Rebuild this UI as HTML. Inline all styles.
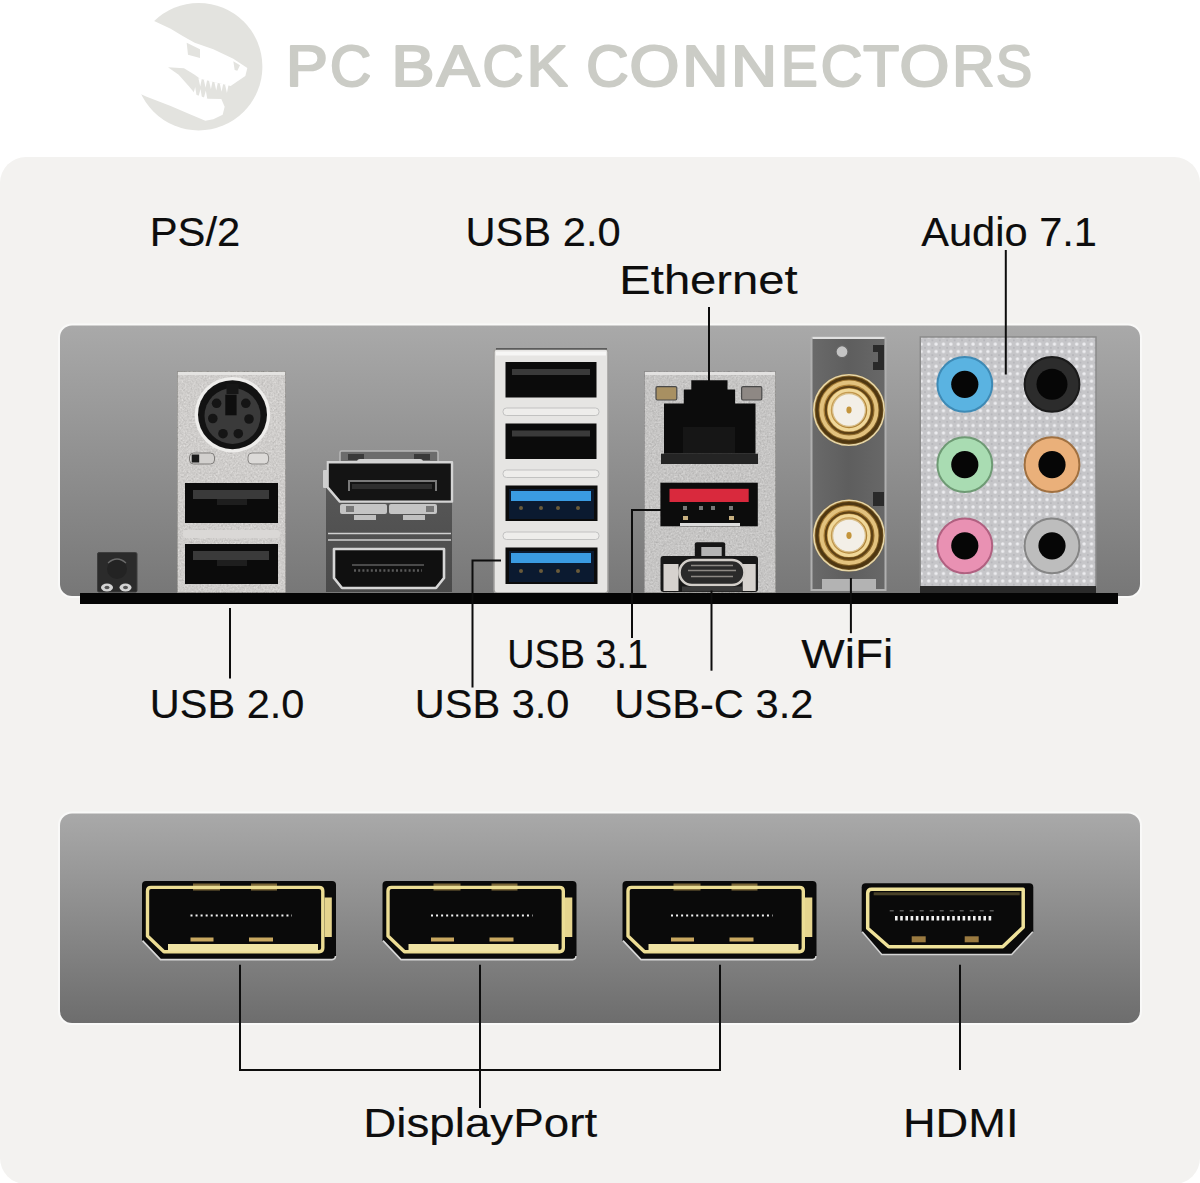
<!DOCTYPE html>
<html><head><meta charset="utf-8"><title>PC Back Connectors</title>
<style>
html,body{margin:0;padding:0;background:#fff;width:1200px;height:1183px;overflow:hidden}
svg{display:block}
text{font-family:"Liberation Sans",sans-serif}
</style></head>
<body>
<svg width="1200" height="1183" viewBox="0 0 1200 1183">
<defs>
 <linearGradient id="band1" x1="0" y1="0" x2="0" y2="1">
  <stop offset="0" stop-color="#a9a9a9"/><stop offset="1" stop-color="#777"/>
 </linearGradient>
 <linearGradient id="band2" x1="0" y1="0" x2="0" y2="1">
  <stop offset="0" stop-color="#a9a9a9"/><stop offset="1" stop-color="#6d6d6d"/>
 </linearGradient>
</defs>
<defs>
 <filter id="grain" x="0" y="0" width="100%" height="100%" color-interpolation-filters="sRGB">
  <feTurbulence type="fractalNoise" baseFrequency="0.55" numOctaves="2" seed="7" result="n"/>
  <feColorMatrix in="n" type="matrix" values="0.33 0.33 0.33 0 0  0.33 0.33 0.33 0 0  0.33 0.33 0.33 0 0  0 0 0 0 1" result="g"/>
  <feComposite in="SourceGraphic" in2="g" operator="arithmetic" k1="0" k2="1" k3="0.34" k4="-0.17" result="c"/>
  <feComposite in="c" in2="SourceGraphic" operator="in"/>
 </filter>
 <pattern id="knurl" width="7.4" height="7.4" patternUnits="userSpaceOnUse">
  <rect width="7.4" height="7.4" fill="#c6c6c9"/>
  <circle cx="3.7" cy="3.7" r="1.7" fill="#ededf0"/>
  <circle cx="0" cy="0" r="1" fill="#b4b4b8"/><circle cx="7.4" cy="0" r="1" fill="#b4b4b8"/><circle cx="0" cy="7.4" r="1" fill="#b4b4b8"/><circle cx="7.4" cy="7.4" r="1" fill="#b4b4b8"/>
 </pattern>
</defs>
<rect width="1200" height="1183" fill="#fff"/>
<!-- light panel -->
<rect x="0" y="157" width="1200" height="1027" rx="26" fill="#f3f2f0"/>
<!-- logo -->
<g transform="translate(120,0) scale(0.13333)">
 <circle cx="590" cy="500" r="478" fill="#e3e3df"/>
 <path fill="#fff" d="M240,150 L380,215 L470,270 L560,320 L700,370 L850,440 L955,510 L940,570 L860,625 L830,645 L600,590 L560,560 L480,512 L360,505 L440,560 L520,650 L570,710 L660,740 L760,742 L785,800 L770,860 L700,895 L640,905 L520,855 L380,795 L200,725 L120,690 L0,690 L0,0 L240,0 Z"/>
 <path fill="#e3e3df" d="M500,320 L600,370 L600,435 L510,410 Z M850,460 L900,490 L880,530 L860,525 Z"/>
 <path fill="#fff" d="M588,587 L602,649 L614,589 Z M628,597 L642,659 L654,599 Z M668,607 L682,669 L694,609 Z M708,616 L722,678 L734,618 Z M748,626 L762,688 L774,628 Z M788,635 L802,697 L814,637 Z M548,712 L564,652 L574,714 Z M588,728 L604,668 L614,730 Z M628,738 L644,678 L654,740 Z"/>
</g>
<!-- title -->
<g fill="#cbccc6" stroke="#cbccc6" stroke-width="2.2" stroke-linejoin="round" font-size="56.98">
 <text transform="translate(286.07,85.70) scale(1.101,1)">P</text>
 <text transform="translate(329.91,85.70) scale(1.000,1)">C</text>
 <text transform="translate(391.46,85.70) scale(1.131,1)">B</text>
 <text transform="translate(436.71,85.70) scale(1.126,1)">A</text>
 <text transform="translate(482.62,85.70) scale(0.995,1)">C</text>
 <text transform="translate(526.76,85.70) scale(1.075,1)">K</text>
 <text transform="translate(586.25,85.70) scale(1.029,1)">C</text>
 <text transform="translate(629.45,85.70) scale(1.125,1)">O</text>
 <text transform="translate(682.24,85.70) scale(1.121,1)">N</text>
 <text transform="translate(731.00,85.70) scale(1.120,1)">N</text>
 <text transform="translate(780.96,85.70) scale(0.963,1)">E</text>
 <text transform="translate(820.68,85.70) scale(1.012,1)">C</text>
 <text transform="translate(863.32,85.70) scale(1.029,1)">T</text>
 <text transform="translate(899.40,85.70) scale(1.124,1)">O</text>
 <text transform="translate(952.23,85.70) scale(1.027,1)">R</text>
 <text transform="translate(996.09,85.70) scale(0.949,1)">S</text>
</g>
<!-- band 1 -->
<rect x="58" y="323.5" width="1084" height="274.5" rx="14" fill="#f9f9f8"/>
<rect x="60" y="325.5" width="1080" height="270.5" rx="12" fill="url(#band1)"/>
<!-- small button -->
<rect x="97.5" y="552.5" width="39.5" height="39.5" rx="1.5" fill="#2b2b2b" stroke="#3e3e3e" stroke-width="1"/>
<circle cx="117" cy="569" r="10" fill="#232323"/>
<path d="M108,563 Q117,555 126,563" fill="none" stroke="#6a6a6a" stroke-width="1.2"/>
<ellipse cx="107" cy="587.5" rx="6" ry="4" fill="#d4d4d4"/><ellipse cx="125.5" cy="587.5" rx="6" ry="4" fill="#d4d4d4"/>
<ellipse cx="107" cy="587.5" rx="2.5" ry="1.8" fill="#555"/><ellipse cx="125.5" cy="587.5" rx="2.5" ry="1.8" fill="#555"/>

<!-- PS/2 + USB2.0 housing -->
<rect x="177" y="371" width="109" height="222" fill="#cfcdcb" stroke="#8f8d8b" stroke-width="1.5" filter="url(#grain)"/>
<rect x="178" y="372" width="107" height="3" fill="#e4e3e1"/>
<circle cx="232.5" cy="414.7" r="37.8" fill="#eeedeb"/>
<circle cx="232.5" cy="414.7" r="34.5" fill="#121212"/>
<circle cx="232.5" cy="416" r="28" fill="#3a3a3a"/>
<rect x="226.5" y="384" width="12" height="10" fill="#161616"/>
<rect x="225.3" y="394.7" width="11.3" height="20.6" fill="#0e0e0e"/>
<g fill="#151515">
 <circle cx="216.6" cy="403.3" r="4.8"/><circle cx="245.8" cy="403.3" r="4.8"/>
 <circle cx="212.8" cy="418.5" r="4.8"/><circle cx="249" cy="419" r="4.8"/>
 <circle cx="223" cy="433.7" r="4.8"/><circle cx="238.3" cy="433.7" r="4.8"/>
</g>
<rect x="189.5" y="453" width="25" height="11" rx="4" fill="#d2d0ce" stroke="#7e7c7a"/>
<rect x="191.7" y="454.5" width="7.5" height="8" fill="#1a1a1a"/>
<rect x="248" y="453" width="20.6" height="11" rx="4" fill="#dcdad8" stroke="#8a8886"/>
<rect x="185" y="483" width="93" height="40" fill="#0b0b0b"/>
<rect x="193" y="490" width="76" height="9" fill="#3a3a3a"/><rect x="217" y="499" width="30" height="6" fill="#1e1e1e"/>
<rect x="185" y="544" width="93" height="40" fill="#0b0b0b"/>
<rect x="193" y="551" width="76" height="9" fill="#3a3a3a"/><rect x="217" y="560" width="30" height="6" fill="#1e1e1e"/>
<rect x="183" y="530" width="97" height="8" rx="3" fill="#dad8d6"/>

<!-- DP + HDMI stacked -->
<defs>
 <linearGradient id="stk" x1="0" y1="0" x2="0" y2="1">
  <stop offset="0" stop-color="#5a5a5a"/><stop offset="1" stop-color="#4a4a4a"/>
 </linearGradient>
</defs>
<rect x="326" y="462" width="126" height="130" fill="url(#stk)"/>
<rect x="340" y="451" width="98" height="14" rx="1.5" fill="#6c6c6c" stroke="#b8b8b8" stroke-width="1.5"/>
<rect x="348" y="454" width="16" height="6" fill="#3a3a3a"/><rect x="414" y="454" width="16" height="6" fill="#3a3a3a"/>
<rect x="357" y="459" width="66" height="6" rx="3" fill="#d2d2d2"/>
<path d="M327.6,462.3 H452 V501.6 H339.8 L327.6,487.4 Z" fill="#141414" stroke="#d4d4d4" stroke-width="2.4" stroke-linejoin="round"/>
<rect x="323" y="470" width="5" height="18" rx="1" fill="#cfcfcf"/>
<path d="M349,491 V481 H436 V491" fill="none" stroke="#7a7a7a" stroke-width="2"/>
<rect x="352" y="484" width="80" height="5" fill="#2e2e2e"/>
<rect x="340" y="504" width="47" height="10" rx="2" fill="#c4c4c4"/>
<rect x="389" y="504" width="48" height="10" rx="2" fill="#c4c4c4"/>
<rect x="346" y="506" width="8" height="6" fill="#777"/><rect x="426" y="506" width="8" height="6" fill="#777"/>
<rect x="354" y="515" width="22" height="5" fill="#c0c0c0"/><rect x="403" y="515" width="22" height="5" fill="#c0c0c0"/>
<path d="M328,533.5 H451 M328,540 H451" stroke="#d0d0d0" stroke-width="1.6"/>
<path d="M334,549 H444 V578 L436,588 H342 L334,578 Z" fill="#101010" stroke="#d6d6d6" stroke-width="2.6" stroke-linejoin="round"/>
<path d="M352,565 H424" stroke="#4a4a4a" stroke-width="2"/>
<path d="M354,570.5 H422" stroke="#5a5a5a" stroke-width="2.4" stroke-dasharray="2 2.2"/>

<!-- USB 2.0 / 3.0 stack -->
<rect x="494" y="349" width="114" height="244" rx="3" fill="#e6e5e3" stroke="#a09f9d" stroke-width="1.5"/>
<path d="M496,348.8 H607" stroke="#444" stroke-width="1.2"/>
<rect x="496" y="351.5" width="110" height="4" fill="#f6f6f5"/>
<g fill="#0b0b0b">
 <rect x="505.5" y="362" width="91" height="35.5"/>
 <rect x="505.5" y="423.5" width="91" height="35.5"/>
 <rect x="505.5" y="485.5" width="92" height="35.5"/>
 <rect x="505.5" y="547.5" width="92" height="36.5"/>
</g>
<rect x="512" y="369" width="78" height="6" fill="#3a3a3a"/>
<rect x="512" y="430.5" width="78" height="6" fill="#3a3a3a"/>
<rect x="509" y="489" width="85" height="30" fill="#0b1a30"/>
<rect x="511" y="491" width="80" height="10" fill="#3a9be2"/>
<rect x="509" y="551" width="85" height="31" fill="#0b1a30"/>
<rect x="511" y="553" width="80" height="10" fill="#3a9be2"/>
<g fill="#eeedeb" stroke="#b8b8b8" stroke-width="0.8">
 <rect x="503" y="408" width="96" height="7.5" rx="3.5"/>
 <rect x="503" y="470" width="96" height="7.5" rx="3.5"/>
 <rect x="503" y="532" width="96" height="7.5" rx="3.5"/>
</g>
<g fill="#6a5a3a">
 <circle cx="521" cy="508" r="2"/><circle cx="541" cy="508" r="2"/><circle cx="558" cy="508" r="2"/><circle cx="578" cy="508" r="2"/>
 <circle cx="521" cy="571" r="2"/><circle cx="541" cy="571" r="2"/><circle cx="558" cy="571" r="2"/><circle cx="578" cy="571" r="2"/>
</g>

<!-- Ethernet / USB3.1 / USB-C -->
<rect x="644" y="371" width="132" height="222" fill="#c6c5c4" stroke="#8c8b8a" stroke-width="1.5" filter="url(#grain)"/>
<rect x="645" y="372" width="130" height="3" fill="#e2e1e0"/>
<path d="M664,403.5 H683.8 V389.5 H691.3 V380.2 H727.5 V389.5 H735.1 V403.5 H755.5 V453.7 H664 Z" fill="#0c0c0c"/>
<rect x="661" y="453.7" width="97" height="10.3" fill="#242424"/>
<rect x="683" y="427" width="52" height="26" fill="#161616"/>

<rect x="656" y="386.6" width="20.8" height="13.4" rx="1.5" fill="#a89062" stroke="#4a4a4a" stroke-width="1.2"/>
<rect x="741.6" y="386.6" width="20.2" height="13.4" rx="1.5" fill="#8e8884" stroke="#4a4a4a" stroke-width="1.2"/>
<rect x="660.4" y="482.7" width="97.4" height="43.6" fill="#0c0c0c"/>
<rect x="669.5" y="488.8" width="79.2" height="13.2" fill="#d9293d"/>
<g fill="#777"><rect x="683" y="506" width="4" height="4"/><rect x="699" y="506" width="4" height="4"/><rect x="711" y="506" width="4" height="4"/><rect x="729" y="506" width="4" height="4"/></g>
<g fill="#c8b080"><rect x="683" y="516" width="5" height="4"/><rect x="729" y="516" width="5" height="4"/></g>
<rect x="680" y="523" width="60" height="3" fill="#ddd"/>
<rect x="694.8" y="542.3" width="30.4" height="17" rx="2" fill="#161616"/>
<rect x="701.3" y="547" width="20.4" height="10.5" fill="#b4b4b4"/>
<rect x="660.5" y="556" width="97.5" height="36" rx="3" fill="#181818"/>
<rect x="663.5" y="564" width="15" height="27" fill="#d6d2ce"/>
<rect x="742.7" y="564" width="13" height="27" fill="#d6d2ce"/>
<rect x="679.5" y="560" width="65" height="25" rx="12.5" fill="#2a2a2a" stroke="#d2cec9" stroke-width="2.6"/>
<path d="M691,565.5 H733 M688,570.5 H736 M691,576.5 H733" stroke="#8c8884" stroke-width="1.6"/>
<rect x="682" y="586.5" width="60" height="5" fill="#3a3a3a"/>

<!-- WiFi -->
<path d="M811.5,339 Q811.5,337 813.5,337 H883.5 Q885.5,337 885.5,339 V590 H811.5 Z" fill="url(#wfb)" stroke="#b0b0b0" stroke-width="2"/>
<path d="M873,345 H884 V370 H873 V362 H878 V352 H873 Z" fill="#2a2a2a"/>
<path d="M873,492 H884 V506 H873 Z" fill="#2a2a2a"/>
<rect x="822" y="579" width="54" height="11" fill="#b3b3b3"/>
<path d="M812.5,338 H884.5" stroke="#e0e0e0" stroke-width="2"/>
<circle cx="842" cy="351.7" r="6" fill="#c4c4c4" stroke="#666" stroke-width="1.2"/>
<defs>
 <linearGradient id="wfb" x1="0" y1="0" x2="1" y2="0"><stop offset="0" stop-color="#6a6a6a"/><stop offset="0.5" stop-color="#5e5e5e"/><stop offset="1" stop-color="#686868"/></linearGradient>
 <radialGradient id="gold" cx="0.45" cy="0.45" r="0.6">
  <stop offset="0" stop-color="#e8c888"/><stop offset="0.45" stop-color="#b88a3c"/><stop offset="0.8" stop-color="#7a5a22"/><stop offset="1" stop-color="#4e3a18"/>
 </radialGradient>
</defs>
<g>
<g transform="translate(849,410)">
 <circle r="36" fill="url(#gold)"/>
 <circle r="35.2" fill="none" stroke="#e6d6a8" stroke-width="1.6"/>
 <circle r="32" fill="none" stroke="#4e3712" stroke-width="3"/>
 <circle r="27.5" fill="none" stroke="#e2c27e" stroke-width="4"/>
 <circle r="23.2" fill="none" stroke="#5e4216" stroke-width="2.2"/>
 <circle r="19.8" fill="none" stroke="#f0d89a" stroke-width="3.2"/>
 <circle r="16.4" fill="#f3efe7" stroke="#d8bf8a" stroke-width="1.2"/>
 <ellipse rx="2.6" ry="3.4" fill="#c4953c"/>
</g>
<g transform="translate(849,535.5)">
 <circle r="36" fill="url(#gold)"/>
 <circle r="35.2" fill="none" stroke="#e6d6a8" stroke-width="1.6"/>
 <circle r="32" fill="none" stroke="#4e3712" stroke-width="3"/>
 <circle r="27.5" fill="none" stroke="#e2c27e" stroke-width="4"/>
 <circle r="23.2" fill="none" stroke="#5e4216" stroke-width="2.2"/>
 <circle r="19.8" fill="none" stroke="#f0d89a" stroke-width="3.2"/>
 <circle r="16.4" fill="#f3efe7" stroke="#d8bf8a" stroke-width="1.2"/>
 <ellipse rx="2.6" ry="3.4" fill="#c4953c"/>
</g>
</g>

<!-- Audio -->
<rect x="920.3" y="337" width="175.7" height="250" fill="url(#knurl)" stroke="#8a8a8a" stroke-width="1.5"/>
<rect x="920" y="586" width="176" height="7" fill="#2a2a2a"/>
<g>
 <circle cx="964.8" cy="384.3" r="27.4" fill="#5ab3e1" stroke="#3e8ab5" stroke-width="2"/>
 <circle cx="1052" cy="384.3" r="27.4" fill="#2c2c2c" stroke="#1a1a1a" stroke-width="2"/>
 <circle cx="964.8" cy="464.7" r="27.4" fill="#a9dcb2" stroke="#6e9a74" stroke-width="2"/>
 <circle cx="1052" cy="464.7" r="27.4" fill="#eab07a" stroke="#a07040" stroke-width="2"/>
 <circle cx="964.8" cy="545.8" r="27.4" fill="#e991b3" stroke="#b06080" stroke-width="2"/>
 <circle cx="1052" cy="545.8" r="27.4" fill="#bdbdbd" stroke="#858585" stroke-width="2"/>
</g>
<g fill="#060606">
 <circle cx="964.8" cy="384.3" r="13.6"/><circle cx="1052" cy="384.3" r="15.5"/>
 <circle cx="964.8" cy="464.7" r="13.6"/><circle cx="1052" cy="464.7" r="13.6"/>
 <circle cx="964.8" cy="545.8" r="13.6"/><circle cx="1052" cy="545.8" r="13.6"/>
</g>

<rect x="80" y="593" width="1038" height="11" fill="#050505"/>
<!-- band 2 -->
<rect x="58" y="811.5" width="1084" height="213.5" rx="14" fill="#f9f9f8"/>
<rect x="60" y="813.5" width="1080" height="209.5" rx="12" fill="url(#band2)"/>

<!-- DP / HDMI bottom -->
<defs>
 <g id="dp">
  <path d="M4,0 H190 Q194,0 194,4 V75 Q194,79 190,79 H18.5 L0,59.6 V4 Q0,0 4,0 Z" fill="#0a0a0a"/>
  <path d="M0.5,59.6 L18.5,78.6 H190 Q193.5,78.6 193.5,75" fill="none" stroke="#d8d8d8" stroke-width="1.6"/>
  <rect x="51" y="2.5" width="27" height="7" fill="#7a6638"/>
  <rect x="109" y="2.5" width="26" height="7" fill="#7a6638"/>
  <path d="M9,6.4 H177 Q180.8,6.4 180.8,10 V67 Q180.8,70.7 177,70.7 H22 L5.5,55 V10 Q5.5,6.4 9,6.4 Z" fill="none" stroke="#ecdd94" stroke-width="3.4" stroke-linejoin="round"/>
  <rect x="26" y="63" width="150" height="7.5" fill="#efe3a4"/>
  <rect x="182.5" y="16.5" width="7.3" height="39.5" fill="#e6d58e"/>
  <rect x="48.5" y="56.5" width="23" height="4" fill="#c8a860"/>
  <rect x="107" y="56.5" width="24" height="4" fill="#c8a860"/>
  <path d="M48.5,34.5 H150" stroke="#f4f4f4" stroke-width="2" stroke-dasharray="2 3.05"/>
 </g>
</defs>
<use href="#dp" x="142" y="881"/>
<use href="#dp" x="382.5" y="881"/>
<use href="#dp" x="622.5" y="881"/>
<g transform="translate(861.7,883.3)">
 <path d="M4,0 H167.6 Q171.6,0 171.6,4 V48.4 L150,71.7 H20 L0,48.4 V4 Q0,0 4,0 Z" fill="#0a0a0a"/>
 <path d="M0.5,48.4 L20,71.2 H150 L171.1,48.4" fill="none" stroke="#d4d4d4" stroke-width="1.6"/>
 <path d="M10,6 H161.5 V44 L141,63.5 H27 L6,45 V10 Q6,6 10,6 Z" fill="none" stroke="#efe29a" stroke-width="3.5" stroke-linejoin="round"/>
 <rect x="50" y="53" width="14" height="6" fill="#9a7a40"/>
 <rect x="103" y="53" width="14" height="6" fill="#9a7a40"/>
 <path d="M33.3,35 H131" stroke="#f2f2f2" stroke-width="4.6" stroke-dasharray="2.6 2.6"/>
 <path d="M28,27.5 H132" stroke="#555" stroke-width="1.5" stroke-dasharray="4 6"/>
 <rect x="12" y="9" width="146" height="3" fill="#4a4228"/>
</g>

<!-- labels -->
<g fill="#0d0d0d" stroke="#0d0d0d" stroke-width="0.15" font-size="41.2">
 <text x="149.74" y="246.4" textLength="90.58" lengthAdjust="spacingAndGlyphs">PS/2</text>
 <text x="465.45" y="246.4" textLength="155.20" lengthAdjust="spacingAndGlyphs">USB 2.0</text>
 <text x="619.31" y="294.4" textLength="178.38" lengthAdjust="spacingAndGlyphs">Ethernet</text>
 <text x="921.20" y="246.4" textLength="175.83" lengthAdjust="spacingAndGlyphs">Audio 7.1</text>
 <text x="507.32" y="667.6" textLength="140.74" lengthAdjust="spacingAndGlyphs">USB 3.1</text>
 <text x="801.38" y="667.6" textLength="91.98" lengthAdjust="spacingAndGlyphs">WiFi</text>
 <text x="149.79" y="718" textLength="154.64" lengthAdjust="spacingAndGlyphs">USB 2.0</text>
 <text x="414.74" y="718" textLength="154.72" lengthAdjust="spacingAndGlyphs">USB 3.0</text>
 <text x="614.32" y="718" textLength="199.13" lengthAdjust="spacingAndGlyphs">USB-C 3.2</text>
 <text x="363.17" y="1136.6" textLength="234.03" lengthAdjust="spacingAndGlyphs">DisplayPort</text>
 <text x="902.93" y="1136.6" textLength="115.60" lengthAdjust="spacingAndGlyphs">HDMI</text>
</g>
<!-- leader lines -->
<g stroke="#0d0d0d" stroke-width="2" fill="none">
 <path d="M709 307V382"/>
 <path d="M1005.8 250V374.5"/>
 <path d="M230 608V678.5"/>
 <path d="M501 560.5H472.5V687.5"/>
 <path d="M661 510H632V638"/>
 <path d="M711.5 590.5V670.7"/>
 <path d="M850.9 578V633.2"/>
 <path d="M240 964.7V1070H720V964.7M480 964.7V1108"/>
 <path d="M960 964.7V1070"/>
</g>
</svg>
</body></html>
